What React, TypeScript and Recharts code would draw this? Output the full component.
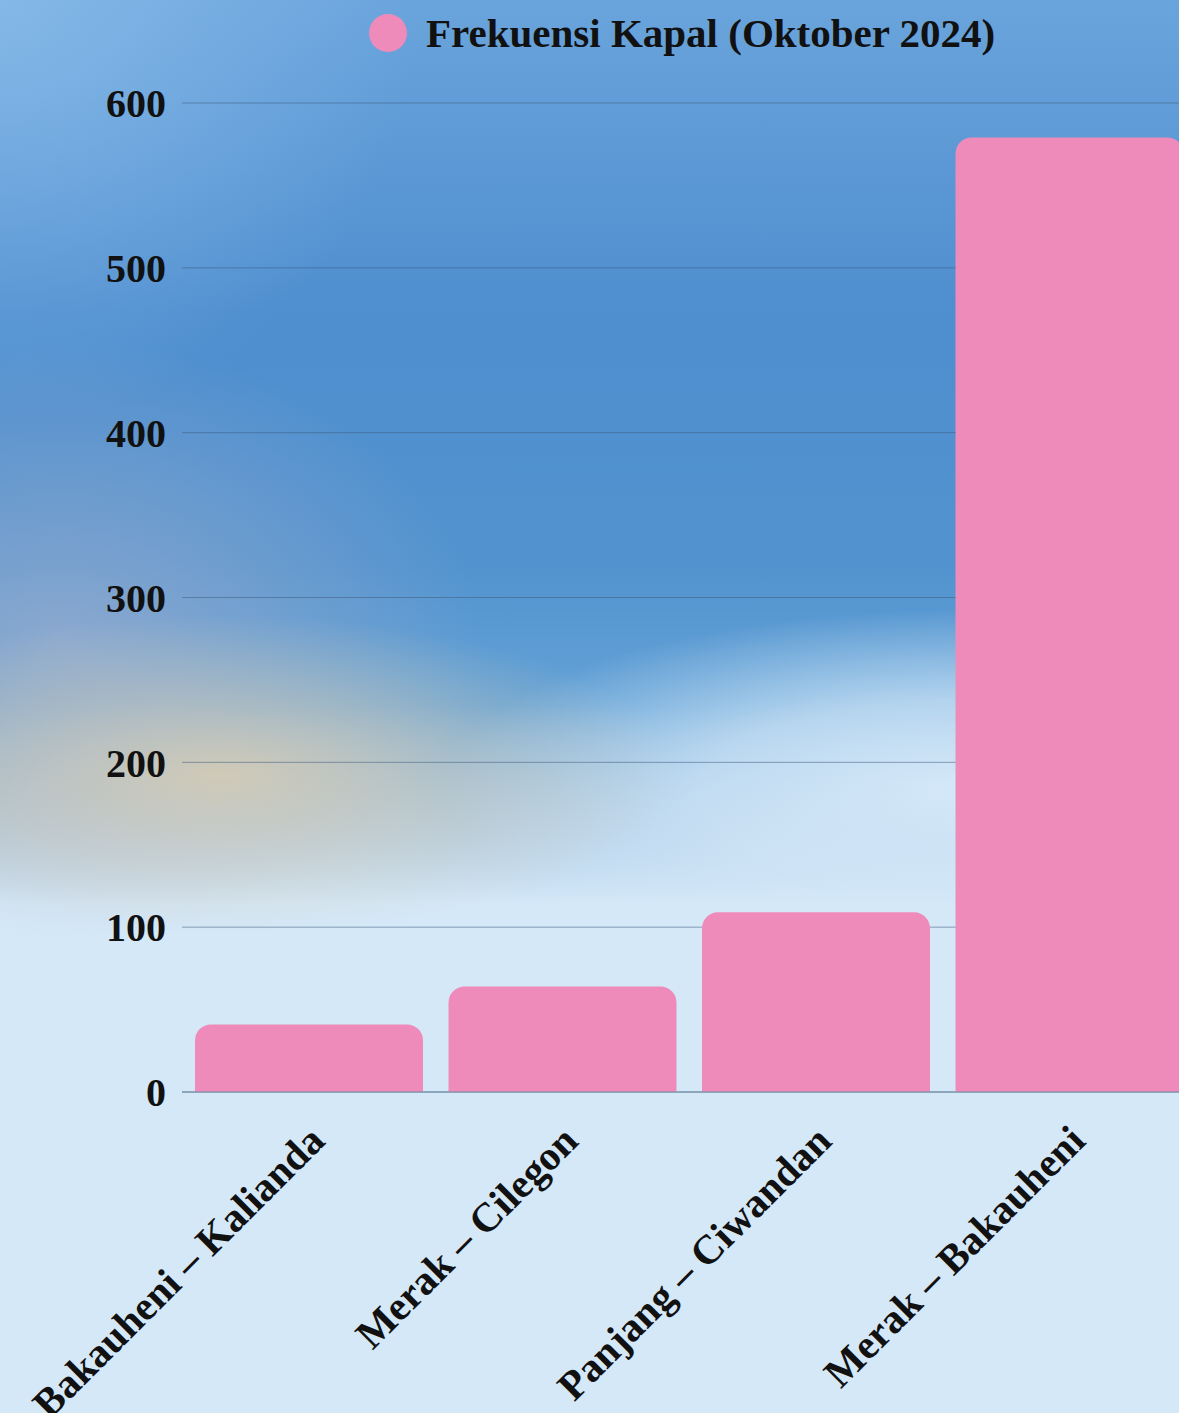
import React from "react";
import { BarChart, Bar, XAxis, YAxis, CartesianGrid, Legend } from "recharts";

const routes = ["Bakauheni – Kalianda", "Merak – Cilegon", "Panjang – Ciwandan", "Merak – Bakauheni"];
const frekuensi = [41, 64, 109, 579];
const yTicks = [0, 100, 200, 300, 400, 500, 600];
const seriesName = "Frekuensi Kapal (Oktober 2024)";

const data = routes.map((route, i) => ({ route, frekuensi: frekuensi[i] }));

const PINK = "#ef8bba";
const FONT = "'Liberation Serif', 'DejaVu Serif', serif";

const bg = [
  "radial-gradient(ellipse 460px 160px at 220px 775px, rgba(214,204,180,0.9) 0%, rgba(214,204,180,0.5) 45%, rgba(214,204,180,0) 100%)",
  "radial-gradient(ellipse 520px 180px at 960px 790px, rgba(212,232,248,1) 0%, rgba(212,232,248,0.7) 50%, rgba(212,232,248,0) 100%)",
  "radial-gradient(ellipse 420px 300px at 60px 640px, rgba(170,178,205,0.6) 0%, rgba(170,178,205,0) 100%)",
  "radial-gradient(ellipse 420px 420px at 0px 0px, rgba(140,190,235,0.75) 0%, rgba(140,190,235,0) 100%)",
  "linear-gradient(to bottom, #6aa4dc 0%, #4f8ecf 22%, #5293cf 40%, #64a2d6 50%, #a9c9e6 58%, #d4e8f8 64%, #d4e8f8 100%)",
].join(", ");

const XTick = ({ x, y, payload }: any) => (
  <g transform={`translate(${x + 18},${y + 51})`}>
    <text
      x={0}
      y={0}
      textAnchor="end"
      transform="rotate(-45)"
      fill="#111"
      fontFamily={FONT}
      fontWeight="bold"
      fontSize={41}
    >
      {payload.value}
    </text>
  </g>
);

const LegendContent = () => (
  <div style={{ display: "flex", alignItems: "center", fontFamily: FONT }}>
    <svg width={40} height={40} style={{ marginRight: 18 }}>
      <circle cx={20} cy={20} r={19} fill={PINK} />
    </svg>
    <span style={{ fontSize: 41, fontWeight: "bold", color: "#111", lineHeight: "40px" }}>{seriesName}</span>
  </div>
);

export default function App() {
  return (
    <div
      style={{
        position: "absolute",
        top: 0,
        left: 0,
        width: 1179,
        height: 1413,
        overflow: "hidden",
        background: bg,
      }}
    >
      <BarChart
        width={1196}
        height={1413}
        data={data}
        margin={{ top: 63, right: 0, bottom: 0, left: 0 }}
        barCategoryGap={13}
      >
        <CartesianGrid vertical={false} stroke="#3f5f7f" strokeOpacity={0.55} />
        <XAxis
          dataKey="route"
          height={321}
          interval={0}
          tickLine={false}
          tickSize={0}
          tickMargin={0}
          axisLine={{ stroke: "#6e8a9e" }}
          tick={<XTick />}
        />
        <YAxis
          width={182}
          domain={[0, 600]}
          ticks={yTicks}
          tickLine={false}
          axisLine={false}
          tickSize={0}
          tickMargin={16}
          tick={{ fill: "#111", fontFamily: FONT, fontWeight: "bold", fontSize: 40 }}
        />
        <Legend
          verticalAlign="top"
          content={<LegendContent />}
          wrapperStyle={{ position: "absolute", top: 13, left: 368, width: "auto" }}
        />
        <Bar
          dataKey="frekuensi"
          name={seriesName}
          fill={PINK}
          radius={[16, 16, 0, 0]}
          isAnimationActive={false}
        />
      </BarChart>
    </div>
  );
}
